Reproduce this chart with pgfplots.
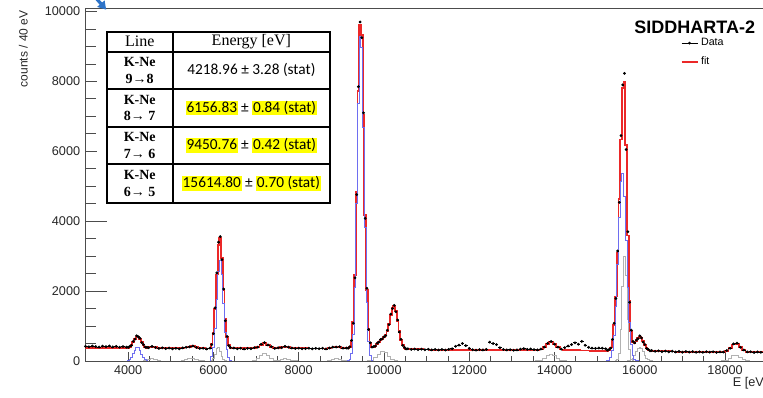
\documentclass[border=0pt]{standalone}
\usepackage{fontspec}
\setmainfont{Liberation Sans}
\newfontfamily\seriffont{Liberation Serif}
\newfontfamily\califont{Carlito}
\usepackage{pgfplots}
\usepackage{pgfplotstable}
\pgfplotsset{compat=1.18}
\usetikzlibrary{arrows.meta}
\definecolor{fitred}{RGB}{235,40,40}
\definecolor{compblue}{RGB}{110,110,240}
\definecolor{compgray}{RGB}{178,178,178}
\definecolor{hl}{RGB}{255,255,0}
\definecolor{arrowblue}{RGB}{45,115,200}

\pgfplotstableread{
E data fit ex
3000 420 372 40
3080 405 372 40
3160 428 372 40
3240 412 371 40
3320 398 371 40
3400 425 371 40
3480 410 371 40
3560 430 370 40
3640 402 370 40
3720 418 370 40
3800 396 370 40
3880 412 370 40
3960 395 372 40
4000 390 382 20
4040 420 406 20
4080 448 459 20
4120 560 542 20
4160 625 637 20
4200 720 701 20
4240 690 700 20
4280 648 633 20
4320 525 538 20
4360 468 456 20
4400 398 405 20
4440 390 382 20
4480 380 392 40
4560 418 408 40
4640 385 392 40
4720 360 373 40
4800 378 369 40
4880 355 368 40
4960 372 367 40
5040 350 366 40
5120 362 365 40
5200 348 364 40
5280 375 368 40
5360 392 386 40
5440 405 412 40
5520 430 421 40
5600 388 397 40
5680 360 371 40
5760 365 360 40
5840 345 357 40
5920 368 356 40
5960 470 491 20
6000 780 809 20
6040 1520 1493 20
6080 2520 2476 20
6120 3400 3324 20
6160 3560 3515 20
6200 2900 2959 20
6240 2060 2029 20
6280 1150 1191 20
6320 700 681 20
6360 440 453 20
6400 385 377 20
6480 372 360 40
6560 350 360 40
6640 365 360 40
6720 345 360 40
6800 362 360 40
6880 352 360 40
6960 380 368 40
7040 395 402 40
7120 480 469 40
7200 525 510 40
7280 458 469 40
7360 410 402 40
7440 360 368 40
7520 378 370 40
7600 382 390 40
7680 420 409 40
7760 395 402 40
7840 372 379 40
7920 358 364 40
8000 368 360 40
8080 350 360 40
8160 356 360 40
8240 366 358 40
8320 348 358 40
8400 362 358 40
8480 352 358 40
8560 365 357 40
8640 345 357 40
8720 372 367 40
8800 398 387 40
8880 400 406 40
8960 410 399 40
9040 368 376 40
9120 372 360 40
9160 365 357 20
9200 410 395 20
9240 590 561 20
9280 1080 1112 20
9320 2380 2463 20
9360 4760 4851 20
9400 7850 7719 20
9440 9700 9627 20
9480 9250 9326 20
9520 7100 7027 20
9560 4080 4167 20
9600 2080 2028 20
9640 900 922 20
9680 520 509 20
9720 398 406 20
9760 412 400 20
9800 430 439 20
9840 505 489 20
9880 540 546 20
9920 612 598 20
9960 630 640 20
10000 690 677 20
10040 725 738 20
10080 880 859 20
10120 1040 1063 20
10160 1340 1313 20
10200 1500 1516 20
10240 1590 1567 20
10280 1410 1427 20
10320 1175 1150 20
10360 830 846 20
10400 620 606 20
10440 448 457 20
10480 390 382 20
10520 345 352 20
10560 350 341 20
10640 330 337 40
10720 342 335 40
10800 325 333 40
10880 338 331 40
10960 322 329 40
11040 335 327 40
11120 318 325 40
11200 330 323 40
11280 315 322 40
11360 328 321 40
11440 312 320 40
11520 335 319 40
11600 350 318 40
11680 420 317 40
11760 455 317 40
11840 500 316 40
11920 440 316 40
12000 360 315 40
12080 322 315 40
12160 310 314 40
12240 325 314 40
12320 318 313 40
12400 330 313 40
12480 540 312 40
12560 500 312 40
12640 470 312 40
12720 380 311 40
12800 330 311 40
12880 315 311 40
12960 322 310 40
13040 308 310 40
13120 318 310 40
13200 340 309 40
13280 352 309 40
13360 335 309 40
13440 345 308 40
13520 325 308 40
13600 318 311 40
13680 342 330 40
13760 400 392 40
13840 505 491 40
13920 560 547 40
14000 480 490 40
14080 398 390 40
14160 340 328 40
14240 380 308 40
14320 430 307 40
14400 470 305 40
14480 520 304 40
14560 480 303 40
14640 560 302 40
14720 450 301 40
14800 390 300 40
14880 370 298 40
14960 360 297 40
15040 372 296 40
15120 365 294 40
15200 350 293 40
15240 310 296 20
15280 330 316 20
15320 370 385 20
15360 620 578 20
15400 1080 1021 20
15440 1790 1846 20
15480 3150 3085 20
15520 4540 4633 20
15560 6450 6336 20
15600 7900 7807 20
15640 8230 7980 20
15680 6050 6187 20
15720 3700 3592 20
15760 1680 1727 20
15800 880 850 20
15840 560 547 20
15880 520 505 20
15920 600 573 20
15960 640 655 20
16000 720 690 20
16040 660 652 20
16080 540 560 20
16120 470 454 20
16160 360 372 20
16200 330 324 20
16240 290 301 20
16280 300 293 20
16360 278 288 40
16440 290 285 40
16520 268 282 40
16600 285 279 40
16680 262 276 40
16760 280 273 40
16840 258 270 40
16920 272 267 40
17000 252 265 40
17080 270 264 40
17160 255 263 40
17240 268 262 40
17320 250 261 40
17400 262 260 40
17480 248 259 40
17560 265 258 40
17640 252 257 40
17720 262 256 40
17800 245 256 40
17880 260 255 40
17960 255 262 40
18040 300 294 40
18120 365 374 40
18200 490 472 40
18280 510 485 40
18360 392 400 40
18440 315 308 40
18520 258 266 40
18600 262 254 40
18680 245 253 40
18760 258 252 40
18840 248 251 40
18920 255 251 40
}\spec

\pgfplotstableread{
E y
3000 0
3960 0
4000 14
4040 43
4080 105
4120 203
4160 314
4200 390
4240 388
4280 309
4320 198
4360 101
4400 41
4440 14
4480 0
5920 0
5960 118
6000 380
6040 936
6080 1768
6120 2575
6160 2877
6200 2474
6240 1636
6280 829
6320 325
6360 98
6400 22
6440 0
9120 0
9160 7
9200 45
9240 211
9280 762
9320 2113
9360 4501
9400 7369
9440 9277
9480 8976
9520 6677
9560 3817
9600 1678
9640 567
9680 147
9720 29
9760 0
15200 0
15240 6
15280 26
15320 95
15360 288
15400 731
15440 1553
15480 2762
15520 4116
15560 5137
15600 5370
15640 4702
15680 3447
15720 2118
15760 1089
15800 469
15840 169
15880 51
15920 13
15960 3
16000 0
19000 0
}\bluecomp

\pgfplotstableread{
E y
3000 0
4320 0
4400 8
4480 37
4560 60
4640 37
4720 8
4800 0
5200 0
5280 8
5360 34
5440 75
5520 88
5600 55
5680 18
5760 3
5840 0
5920 0
5960 18
6000 74
6040 202
6080 353
6120 394
6160 283
6200 130
6240 38
6280 7
6320 0
6880 0
6960 13
7040 64
7120 167
7200 230
7280 167
7360 64
7440 13
7520 14
7600 42
7680 69
7760 58
7840 26
7920 6
8000 0
8640 0
8720 14
8800 42
8880 69
8960 58
9040 26
9120 6
9200 0
9560 0
9640 5
9720 27
9800 91
9880 198
9960 276
10040 247
10120 142
10200 52
10280 12
10360 0
13520 0
13600 3
13680 19
13760 70
13840 154
13920 200
14000 154
14080 70
14160 19
14240 3
14320 0
15400 0
15440 3
15480 33
15520 227
15560 909
15600 2147
15640 2988
15680 2450
15720 1184
15760 337
15800 57
15840 6
15880 0
17880 0
17960 5
18040 28
18120 84
18200 153
18280 164
18360 103
18440 38
18520 8
18600 0
19000 0
}\graycompA

\pgfplotstableread{
E y
15680 0
15720 3
15760 11
15800 34
15840 82
15880 164
15920 270
15960 362
16000 400
16040 362
16080 270
16120 164
16160 82
16200 34
16240 11
16280 3
16320 0
}\graycompB

\begin{document}
\begin{tikzpicture}
\begin{axis}[
  scale only axis,
  width=511.65pt, height=264.75pt,
  xmin=3000, xmax=19000, ymin=0, ymax=10100,
  xtick={4000,6000,...,18000},
  ytick={0,2000,...,10000},
  minor x tick num=3,
  minor y tick num=3,
  tick align=inside,
  tick pos=left,
  major tick length=15.75pt,
  minor tick length=7.5pt,
  xtick style={/pgfplots/major tick length=6.75pt, /pgfplots/minor tick length=3.75pt},
  axis line style={black!70, line width=0.6pt},
  every tick/.style={black!70, line width=0.6pt},
  scaled ticks=false,
  /pgf/number format/1000 sep={},
  /pgf/number format/assume math mode=true,
  ticklabel style={font=\fontsize{9.5}{10}\selectfont, text=black!85},
  yticklabel style={xshift=-0.5pt},
  xlabel={E [eV]},
  xlabel style={at={(axis description cs:1,-0.045)}, anchor=north east, inner sep=0pt,
    font=\fontsize{9.5}{10}\selectfont, text=black!85},
  ylabel={counts / 40 eV},
  ylabel style={at={(axis description cs:-0.0843,0.994)}, anchor=south east, inner sep=0pt,
    font=\fontsize{9}{10}\selectfont, text=black!85},
  legend style={at={(rel axis cs:0.872,0.922)}, anchor=north west, draw=none, fill=none,
    font=\fontsize{8}{9}\selectfont, row sep=3pt, inner sep=0pt,
    /tikz/every even column/.append style={column sep=0pt}},
  legend cell align=left,
]
\addlegendimage{legend image code/.code={
  \draw[black, line width=0.5pt] (0cm,0cm) -- (0.42cm,0cm);
  \fill[black] (0.21cm,0cm) circle (0.8pt);}}
\addlegendentry{Data}
\addlegendimage{legend image code/.code={
  \draw[fitred, line width=1.4pt] (0cm,0cm) -- (0.42cm,0cm);}}
\addlegendentry{fit}

\addplot[fitred, line width=1.4pt, const plot mark mid, forget plot] table[x=E, y=fit]{\spec};
\addplot[compgray, line width=0.6pt, const plot mark mid, forget plot] table[x=E, y=y]{\graycompA};
\addplot[compgray, line width=0.6pt, const plot mark mid, forget plot] table[x=E, y=y]{\graycompB};
\addplot[compblue, line width=0.7pt, const plot mark mid, forget plot] table[x=E, y=y]{\bluecomp};
\addplot[black, only marks, mark=*, mark size=0.85pt, forget plot,
  error bars/.cd, x dir=both, x explicit, error mark=none,
  error bar style={black, line width=0.55pt}]
  table[x=E, y=data, x error=ex]{\spec};

% pasted table with its white margin
\fill[white] (rel axis cs:0.0169,0.4221) rectangle (rel axis cs:0.3701,0.995);
\draw[line width=1.6pt] (rel axis cs:0.0311,0.4484) rectangle (rel axis cs:0.3584,0.9329);
\draw[line width=1.3pt] (rel axis cs:0.0311,0.8762) -- (rel axis cs:0.3584,0.8762);
\draw[line width=1.3pt] (rel axis cs:0.0311,0.7705) -- (rel axis cs:0.3584,0.7705);
\draw[line width=1.3pt] (rel axis cs:0.0311,0.6637) -- (rel axis cs:0.3584,0.6637);
\draw[line width=1.3pt] (rel axis cs:0.0311,0.5581) -- (rel axis cs:0.3584,0.5581);
\draw[line width=1.3pt] (rel axis cs:0.1278,0.4484) -- (rel axis cs:0.1278,0.9329);

\node[font=\seriffont\fontsize{12}{12}\selectfont, inner sep=0pt] at (rel axis cs:0.0795,0.905) {Line};
\node[font=\seriffont\fontsize{12}{12}\selectfont, inner sep=0pt] at (rel axis cs:0.2431,0.905) {Energy [eV]};

\node[font=\seriffont\bfseries\fontsize{10.5}{11}\selectfont, inner sep=0pt] at (rel axis cs:0.0795,0.846) {K-Ne};
\node[font=\seriffont\bfseries\fontsize{10.5}{11}\selectfont, inner sep=0pt] at (rel axis cs:0.0795,0.799) {9→8};
\node[font=\seriffont\bfseries\fontsize{10.5}{11}\selectfont, inner sep=0pt] at (rel axis cs:0.0795,0.740) {K-Ne};
\node[font=\seriffont\bfseries\fontsize{10.5}{11}\selectfont, inner sep=0pt] at (rel axis cs:0.0795,0.693) {8→ 7};
\node[font=\seriffont\bfseries\fontsize{10.5}{11}\selectfont, inner sep=0pt] at (rel axis cs:0.0795,0.634) {K-Ne};
\node[font=\seriffont\bfseries\fontsize{10.5}{11}\selectfont, inner sep=0pt] at (rel axis cs:0.0795,0.587) {7→ 6};
\node[font=\seriffont\bfseries\fontsize{10.5}{11}\selectfont, inner sep=0pt] at (rel axis cs:0.0795,0.527) {K-Ne};
\node[font=\seriffont\bfseries\fontsize{10.5}{11}\selectfont, inner sep=0pt] at (rel axis cs:0.0795,0.480) {6→ 5};

\node[font=\califont\fontsize{11.5}{12}\selectfont, inner sep=0pt] at (rel axis cs:0.2431,0.8234) {4218.96 ± 3.28 (stat)};
\node[font=\califont\fontsize{11.5}{12}\selectfont, inner sep=0pt] at (rel axis cs:0.2431,0.7171)
  {\setlength{\fboxsep}{0.5pt}\colorbox{hl}{6156.83\vphantom{(}} ± \colorbox{hl}{0.84 (stat)}};
\node[font=\califont\fontsize{11.5}{12}\selectfont, inner sep=0pt] at (rel axis cs:0.2431,0.6109)
  {\setlength{\fboxsep}{0.5pt}\colorbox{hl}{9450.76\vphantom{(}} ± \colorbox{hl}{0.42 (stat)}};
\node[font=\califont\fontsize{11.5}{12}\selectfont, inner sep=0pt] at (rel axis cs:0.2431,0.5033)
  {\setlength{\fboxsep}{0.5pt}\colorbox{hl}{15614.80\vphantom{(}} ± \colorbox{hl}{0.70 (stat)}};

\node[font=\bfseries\fontsize{13.5}{14}\selectfont, inner sep=0pt] at (rel axis cs:0.893,0.946) {SIDDHARTA-2};
\end{axis}

\draw[-{Triangle[length=6pt,width=7pt]}, line width=2.4pt, arrowblue] (4.5pt,276pt) -- (15.5pt,263.5pt);

\pgfresetboundingbox
\path[use as bounding box] (-64.125pt,-27.75pt) rectangle (508.125pt,270.75pt);
\end{tikzpicture}
\end{document}
